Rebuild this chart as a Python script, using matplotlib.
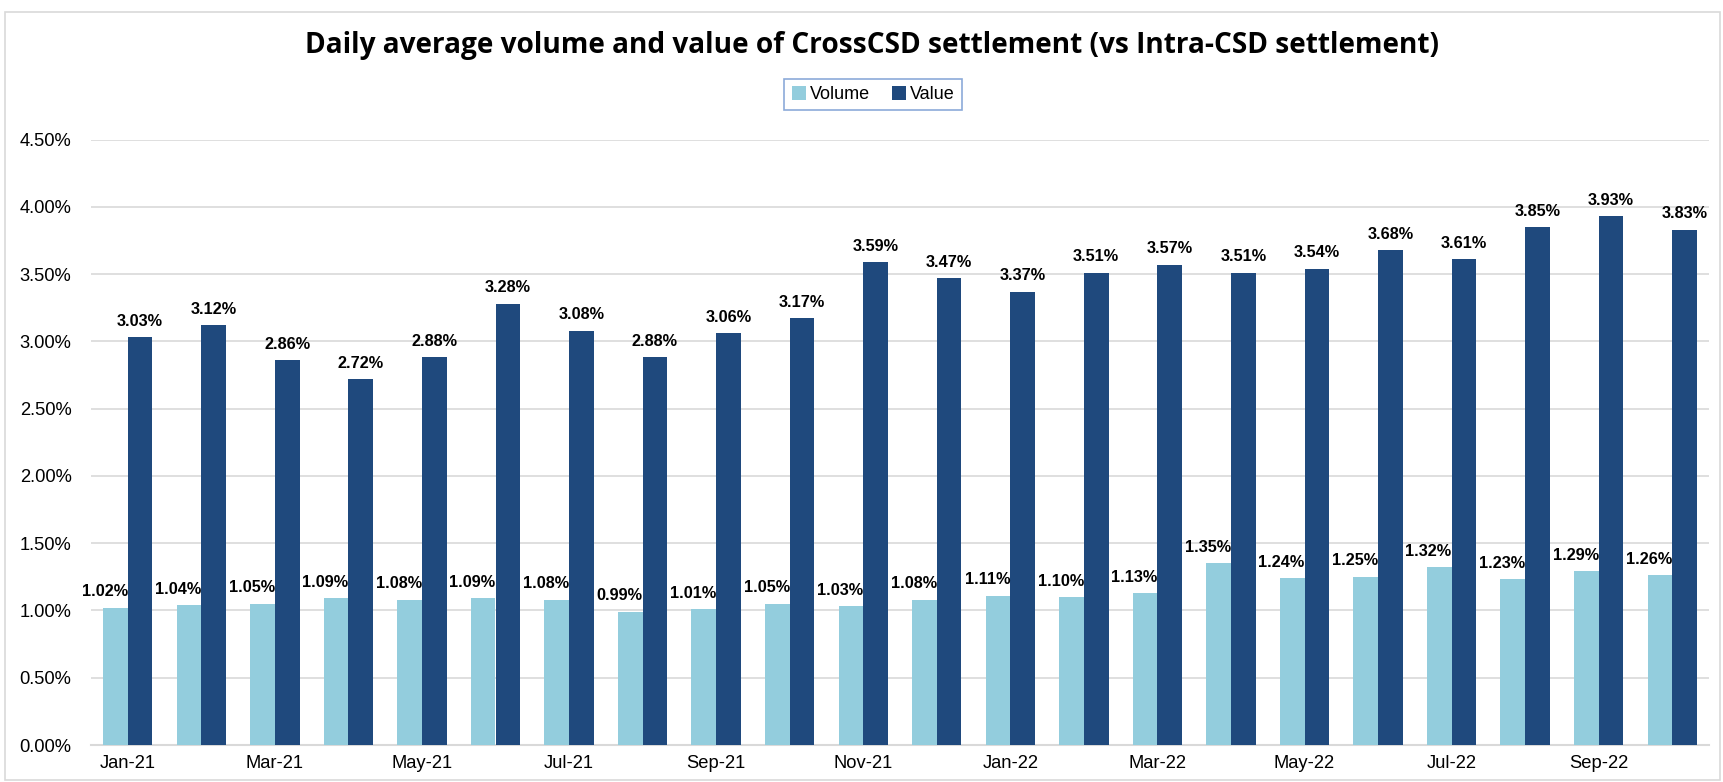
import numpy as np
import matplotlib.pyplot as plt
from matplotlib.patches import Rectangle

# months Jan-21 .. Oct-22
months = ['Jan-21', 'Feb-21', 'Mar-21', 'Apr-21', 'May-21', 'Jun-21', 'Jul-21', 'Aug-21',
          'Sep-21', 'Oct-21', 'Nov-21', 'Dec-21', 'Jan-22', 'Feb-22', 'Mar-22', 'Apr-22',
          'May-22', 'Jun-22', 'Jul-22', 'Aug-22', 'Sep-22', 'Oct-22']

# share of cross-CSD settlement (%)
volume = [1.02, 1.04, 1.05, 1.09, 1.08, 1.09, 1.08, 0.99, 1.01, 1.05, 1.03,
          1.08, 1.11, 1.10, 1.13, 1.35, 1.24, 1.25, 1.32, 1.23, 1.29, 1.26]
value = [3.03, 3.12, 2.86, 2.72, 2.88, 3.28, 3.08, 2.88, 3.06, 3.17, 3.59,
         3.47, 3.37, 3.51, 3.57, 3.51, 3.54, 3.68, 3.61, 3.85, 3.93, 3.83]

y_ticks = [0.0, 0.5, 1.0, 1.5, 2.0, 2.5, 3.0, 3.5, 4.0, 4.5]

col_vol = '#93CDDD'
col_val = '#1F497D'

W, H = 1723, 782
fig = plt.figure(figsize=(W / 100, H / 100), dpi=100)
ax = fig.add_axes([91 / W, 1 - 745 / H, (1709 - 91) / W, (745 - 139.5) / H])

x = np.arange(len(months))
bw = 0.335
b1 = ax.bar(x - bw / 2, volume, bw, color=col_vol, label='Volume', zorder=3)
b2 = ax.bar(x + bw / 2, value, bw, color=col_val, label='Value', zorder=3)

# data labels
for i in range(len(months)):
    ax.annotate(f'{volume[i]:.2f}%', (x[i], volume[i]), xytext=(0, 6),
                textcoords='offset points', ha='right', va='bottom',
                fontsize=11.7, fontweight='bold', family='Liberation Sans')
    ax.annotate(f'{value[i]:.2f}%', (x[i] + bw / 2, value[i]), xytext=(0, 6),
                textcoords='offset points', ha='center', va='bottom',
                fontsize=11.7, fontweight='bold', family='Liberation Sans')

ax.set_xlim(-0.5, len(months) - 0.5)
ax.set_ylim(0, 4.5)
ax.set_yticks(y_ticks)
ax.set_yticklabels([f'{t:.2f}%' for t in y_ticks], family='Liberation Sans', fontsize=13.2)
ax.set_xticks(x[::2])
ax.set_xticklabels(months[::2], family='Liberation Sans', fontsize=13.2)
ax.tick_params(axis='y', length=0, pad=14)
ax.tick_params(axis='x', length=0, pad=7)

ax.grid(axis='y', color='#D9D9D9', linewidth=1.2, zorder=0)
for s in ['left', 'right', 'top']:
    ax.spines[s].set_visible(False)
ax.spines['bottom'].set_color('#D9D9D9')
ax.spines['bottom'].set_linewidth(1.5)

fig.text(0.506, 1 - 46 / H, 'Daily average volume and value of CrossCSD settlement (vs Intra-CSD settlement)',
         ha='center', va='center', fontsize=20.2, fontweight='bold', family='Open Sans')

leg = fig.legend(handles=[b1, b2], loc='center', bbox_to_anchor=(873 / W, 1 - 94.5 / H),
                 ncol=2, frameon=True, fancybox=False, handlelength=0.8, handleheight=0.8,
                 handletextpad=0.2, columnspacing=1.2,
                 prop={'family': 'Liberation Sans', 'size': 13})
leg.get_frame().set_edgecolor('#6F95CF')
leg.get_frame().set_linewidth(1.2)

# outer chart border
fig.patches.append(Rectangle((5 / W, 2 / H), (W - 8) / W, (H - 14) / H, transform=fig.transFigure,
                             fill=False, edgecolor='#D9D9D9', linewidth=1.2))

fig.savefig('out.png', dpi=100)
